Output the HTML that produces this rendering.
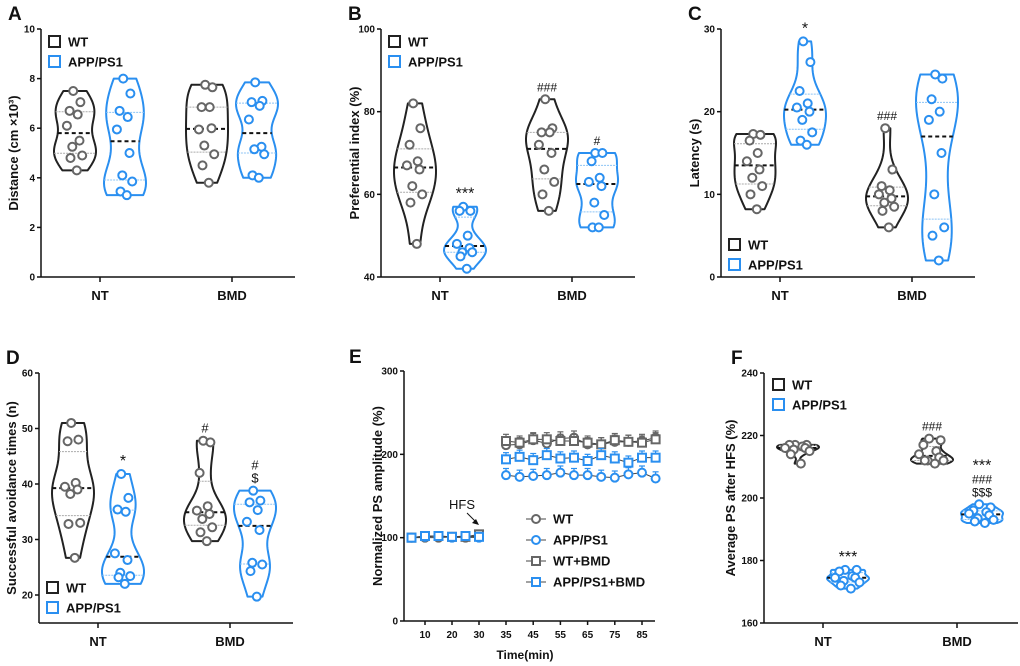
<!DOCTYPE html>
<html><head><meta charset="utf-8"><style>
body{margin:0;background:#fff}
svg{display:block;font-family:"Liberation Sans",Arial,sans-serif;font-weight:bold}
</style></head><body>
<svg id="fig" width="1020" height="666" viewBox="0 0 1020 666"></svg>
<script>
// ---- data ----
const groups=["NT","BMD"];
const A_WT_NT=[7.5,7.05,6.7,6.55,6.1,5.5,5.25,4.9,4.8,4.3];
const A_AP_NT=[8.0,7.4,6.7,6.45,5.95,5.0,4.1,3.85,3.45,3.3];
const A_WT_BMD=[7.75,7.65,6.85,6.85,5.95,6.0,5.3,4.95,4.5,3.8];
const A_AP_BMD=[7.85,7.1,7.05,6.9,6.35,5.25,5.15,4.95,4.1,4.0];
const B_WT_NT=[82,76,72,68,67,66,62,60,58,48];
const B_AP_NT=[57,56,56,50,48,47,46,46,45,42];
const B_WT_BMD=[83,76,75,75,72,70,66,63,60,56];
const B_AP_BMD=[70,70,68,64,63,62,58,55,52,52];
const C_WT_NT=[17.3,17.2,16.5,15,14,13,12,11,10,8.2];
const C_AP_NT=[28.5,26,22.5,21,20.5,20,19,17.5,16.5,16];
const C_WT_BMD=[18,13,11,10.5,10,9.5,9,8.5,8,6];
const C_AP_BMD=[24.5,24,21.5,20,19,15,10,6,5,2];
const D_WT_NT=[51,48,47.7,40.2,39.5,39,38.2,33,32.8,26.7];
const D_AP_NT=[41.8,37.5,35.4,35,27.5,26.3,24,23.4,23.2,22];
const D_WT_BMD=[47.8,47.5,42,36,35.2,34.6,33.7,32.2,31.3,29.7];
const D_AP_BMD=[38.8,37,36.7,35.3,33.2,31.7,25.8,25.5,24.3,19.7];
const F_WT_NT=[217,217,217,216.5,216,216,215.5,215,214,211];
const F_AP_NT=[177,177,176.5,175,174.5,174.5,173.5,173,172,171];
const F_WT_BMD=[219,218.5,217,215,214,213,212,212,212,211];
const F_AP_BMD=[198,197,196,195.5,195,194.5,193.5,193,192.5,192];
const E_times1=[5,10,15,20,25,30];
const E_times2=[35,40,45,50,55,60,65,70,75,80,85,90];
const E_base_WT=[100,100,100,101,100,101];
const E_base_AP=[100,101,102,100,101,100];
const E_base_WTB=[100,102,102,101,101,104];
const E_base_APB=[100,102,102,101,102,101];
const E_WT=[211,212,217,213,219,220,212,212,215,215,216,220];
const E_WTB=[216,214,218,218,216,216,214,212,217,215,214,218];
const E_APB=[194,197,193,199,195,196,192,199,195,190,196,196];
const E_AP=[175,173,174,175,178,175,175,173,172,176,178,171];

const NS="http://www.w3.org/2000/svg",svg=document.getElementById('fig');
const BLK="#222",BLU="#2a8ff0",GRY="#666";
function el(tag,attrs,parent){const e=document.createElementNS(NS,tag);for(const k in attrs)e.setAttribute(k,attrs[k]);(parent||svg).appendChild(e);return e;}
function txt(x,y,s,size,opts){const t=el('text',Object.assign({x:x,y:y,'font-size':size,fill:'#111'},opts||{}));t.textContent=s;return t;}
function quant(a,q){const s=[...a].sort((x,y)=>x-y);const p=(s.length-1)*q,i=Math.floor(p);return s[i]+(s[Math.min(i+1,s.length-1)]-s[i])*(p-i);}

function violinPanel(P){
  const g=el('g',{});
  
  
  const ys=v=>P.yb-(v-P.min)/(P.max-P.min)*(P.yb-P.yt);
  const xa=P.xa||P.yb, sp=P.sp||132, sc=P.sc||1;
  const ax=el('line',{x1:P.x0,y1:P.yt,x2:P.x0,y2:xa,stroke:'#111','stroke-width':1.5},g);
  
  const bx=el('line',{x1:P.x0,y1:xa,x2:P.x0+254,y2:xa,stroke:'#111','stroke-width':1.5},g);
  
  P.ticks.forEach(v=>{el('line',{x1:P.x0-4,y1:ys(v),x2:P.x0,y2:ys(v),stroke:'#111','stroke-width':1.5},g);
    const t=txt(P.x0-6,ys(v)+3.5,String(v),10,{'text-anchor':'end'});});
  groups.forEach((gn,i)=>{const cx=P.x0+59+i*sp;
    el('line',{x1:cx,y1:xa,x2:cx,y2:xa+5,stroke:'#111','stroke-width':1.5},g);
    const t=txt(cx,xa+23,gn,13,{'text-anchor':'middle'});});
  const yt=txt(0,0,P.ytitle,13,{'text-anchor':'middle',transform:`translate(${P.tx},${(P.yt+xa)/2}) rotate(-90)`});
  
  const L=txt(P.x0-33,P.yt-9,P.letter,19,{});
  P.data.forEach((d,k)=>{
    const cx=P.x0+34+Math.floor(k/2)*sp+(k%2)*50;
    const col=k%2?BLU:BLK,pc=k%2?BLU:GRY;
    const mn=Math.min(...d),mx=Math.max(...d),bw=(mx-mn)*0.16||1;
    const N=40,pts=[];let wmax=0;
    for(let i=0;i<=N;i++){const v=mn+(mx-mn)*i/N;let s=0;d.forEach(p=>s+=Math.exp(-0.5*((v-p)/bw)**2));pts.push([v,s]);wmax=Math.max(wmax,s);}
    const W=21;
    let path='M'+pts.map(p=>`${cx+p[1]/wmax*W},${ys(p[0])}`).join('L');
    path+='L'+pts.slice().reverse().map(p=>`${cx-p[1]/wmax*W},${ys(p[0])}`).join('L')+'Z';
    const v=el('path',{d:path,fill:'none',stroke:col,'stroke-width':2,'stroke-linejoin':'round'},g);
    
    const wAt=val=>{let s=0;d.forEach(p=>s+=Math.exp(-0.5*((val-p)/bw)**2));return s/wmax*W;};
    [0.25,0.75].forEach(q=>{const qv=quant(d,q),w=wAt(qv);el('line',{x1:cx-w,y1:ys(qv),x2:cx+w,y2:ys(qv),stroke:k%2?'#8cc4f5':'#aaa','stroke-width':1,'stroke-dasharray':'2,1'},g);});
    const md=quant(d,0.5),wm=wAt(md);
    const ml=el('line',{x1:cx-wm,y1:ys(md),x2:cx+wm,y2:ys(md),stroke:'#111','stroke-width':2,'stroke-dasharray':'4,3'},g);
    
    const off=[-2,6,-6,3,-9,5,-3,8,-5,2];
    d.forEach((p,j)=>{const c=el('circle',{cx:cx+off[j]*0.9*sc,cy:ys(p),r:4,fill:'#fff',stroke:pc,'stroke-width':2},g);
      });
    (P.ann[k]||[]).forEach((a,j)=>{const t=txt(cx,ys(mx)-8-j*13,a[0],a[1]||13,{'text-anchor':'middle','font-weight':'normal'});
      });
  });
  [['WT',BLK],['APP/PS1',BLU]].forEach((L,i)=>{
    const lx=P.lx,ly=P.ly+i*20;
    const r=el('rect',{x:lx,y:ly,width:11,height:11,fill:'none',stroke:L[1],'stroke-width':2},g);
    
    const t=txt(lx+19,ly+10.5,L[0],13,{});});
}

violinPanel({name:'panel-a',letter:'A',x0:41,yt:29,yb:277,min:0,max:10,ticks:[0,2,4,6,8,10],ytitle:'Distance (cm ×10³)',tx:18,
  data:[A_WT_NT,A_AP_NT,A_WT_BMD,A_AP_BMD],ann:[],lx:49,ly:36});
violinPanel({name:'panel-b',letter:'B',x0:381,yt:29,yb:277,min:40,max:100,ticks:[40,60,80,100],ytitle:'Preferential index (%)',tx:359,
  data:[B_WT_NT,B_AP_NT,B_WT_BMD,B_AP_BMD],ann:[[],[['***',16]],[['###',12]],[['#',12]]],lx:389,ly:36});
violinPanel({name:'panel-c',letter:'C',x0:721,yt:29,yb:277,min:0,max:30,ticks:[0,10,20,30],ytitle:'Latency (s)',tx:699,
  data:[C_WT_NT,C_AP_NT,C_WT_BMD,C_AP_BMD],ann:[[],[['*',16]],[['###',12]],[]],lx:729,ly:239});
violinPanel({name:'panel-d',letter:'D',x0:39,yt:373,yb:595,xa:623,min:20,max:60,ticks:[20,30,40,50,60],ytitle:'Successful avoidance times (n)',tx:16,
  data:[D_WT_NT,D_AP_NT,D_WT_BMD,D_AP_BMD],ann:[[],[['*',16]],[['#',13]],[['$',13],['#',13]]],lx:47,ly:582});
violinPanel({name:'panel-f',letter:'F',x0:764,yt:373,yb:623,sp:134,sc:1.6,min:160,max:240,ticks:[160,180,200,220,240],ytitle:'Average PS after HFS (%)',tx:735,
  data:[F_WT_NT,F_AP_NT,F_WT_BMD,F_AP_BMD],ann:[[],[['***',16]],[['###',12]],[['$$$',12],['###',12],['***',16]]],lx:773,ly:379});

// ---- panel E ----
(function(){
  const g=el('g',{});
  
  
  const x0=404,yt=371,yb=621;
  const tx=t=>t<=30?425+(t-10)*2.7:506+(t-35)*2.72;
  const ys=v=>yb-v/300*(yb-yt);
  el('line',{x1:x0,y1:yt,x2:x0,y2:yb,stroke:'#111','stroke-width':1.5},g);
  el('line',{x1:x0,y1:yb,x2:655,y2:yb,stroke:'#111','stroke-width':1.5},g);
  [0,100,200,300].forEach(v=>{el('line',{x1:x0-4,y1:ys(v),x2:x0,y2:ys(v),stroke:'#111','stroke-width':1.5},g);
    const t=txt(x0-6,ys(v)+3.5,String(v),10,{'text-anchor':'end'});});
  [10,20,30,35,45,55,65,75,85].forEach(v=>{el('line',{x1:tx(v),y1:yb,x2:tx(v),y2:yb+4,stroke:'#111','stroke-width':1.5},g);
    const t=txt(tx(v),yb+17,String(v),10,{'text-anchor':'middle'});});
  const xt=txt(525,659,'Time(min)',12,{'text-anchor':'middle'});
  const yt2=txt(0,0,'Normalized PS amplitude (%)',13,{'text-anchor':'middle',transform:`translate(382,${(yt+yb)/2}) rotate(-90)`});
  
  const L=txt(349,363,'E',19,{});
  const series=[['WT',E_base_WT,E_WT,GRY,'c'],['APP/PS1',E_base_AP,E_AP,BLU,'c'],['WT+BMD',E_base_WTB,E_WTB,GRY,'s'],['APP/PS1+BMD',E_base_APB,E_APB,BLU,'s']];
  function mark(x,y,col,sh){let m;if(sh==='c')m=el('circle',{cx:x,cy:y,r:4,fill:'#fff',stroke:col,'stroke-width':2},g);
    else m=el('rect',{x:x-4,y:y-4,width:8,height:8,fill:'#fff',stroke:col,'stroke-width':2},g);
    }
  series.forEach(s=>{
    [[E_times1,s[1]],[E_times2,s[2]]].forEach(([ts,vs])=>{
      const ln=el('polyline',{points:ts.map((t,i)=>`${tx(t)},${ys(vs[i])}`).join(' '),fill:'none',stroke:'#444','stroke-width':1},g);
      
      ts.forEach((t,i)=>{const e=ts===E_times1?3:8;el('line',{x1:tx(t),y1:ys(vs[i]),x2:tx(t),y2:ys(vs[i]+e),stroke:s[3],'stroke-width':1.2},g);
        el('line',{x1:tx(t)-3,y1:ys(vs[i]+e),x2:tx(t)+3,y2:ys(vs[i]+e),stroke:s[3],'stroke-width':1.2},g);});
      ts.forEach((t,i)=>mark(tx(t),ys(vs[i]),s[3],s[4]));
    });
  });
  series.forEach((s,i)=>{const ly=519+i*21;el('line',{x1:526,y1:ly,x2:546,y2:ly,stroke:'#444','stroke-width':1},g);mark(536,ly,s[3],s[4]);
    const t=txt(553,ly+4.5,s[0],13,{});});
  const h=txt(462,509,'HFS',13,{'text-anchor':'middle','font-weight':'normal'});
  el('line',{x1:467,y1:513,x2:477,y2:523,stroke:'#111','stroke-width':1},g);
  el('path',{d:'M479,525 L472,523 L476,519 Z',fill:'#111'},g);
})();
</script>
</body></html>
